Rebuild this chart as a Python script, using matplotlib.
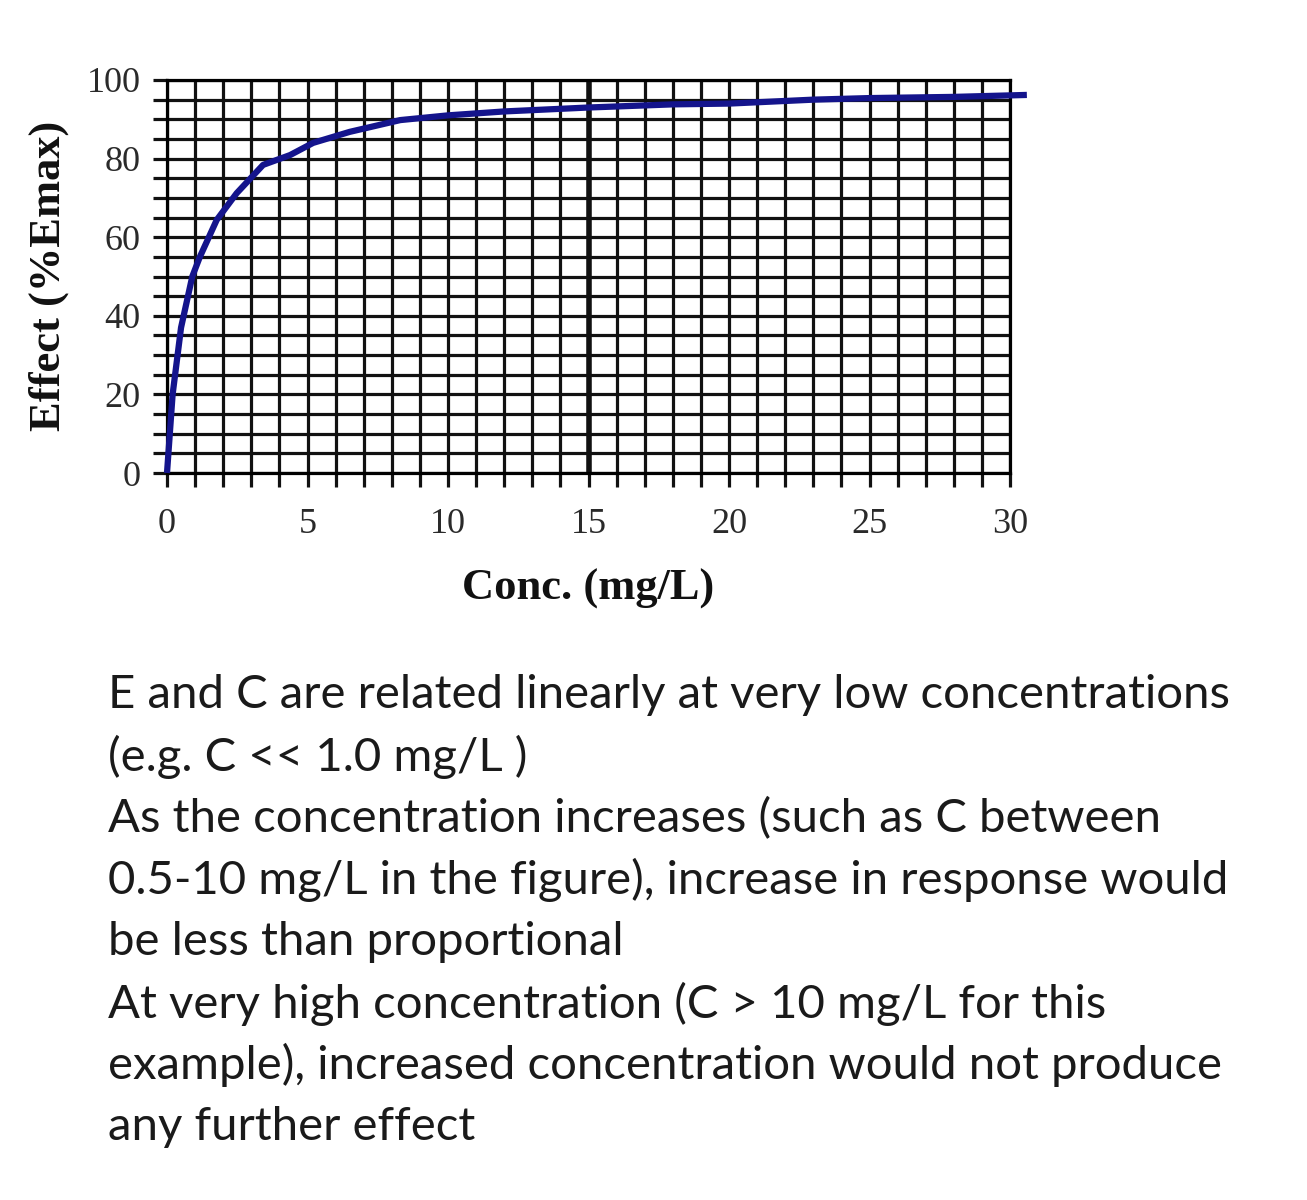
import matplotlib
matplotlib.use('Agg')
import numpy as np
import matplotlib.pyplot as plt

# concentration (mg/L) and effect (%Emax)
conc = [0, 0.2, 0.5, 0.9, 1.17, 1.77, 2.48, 3.42, 4.38, 5.2, 6.5, 8.3, 10, 12, 15, 18, 20, 23, 25, 28, 30.6]
effect = [0, 20, 37, 50, 55, 64.4, 71.2, 78.4, 80.9, 84, 86.8, 89.8, 91, 92, 93, 93.8, 94, 95, 95.4, 95.7, 96.2]

x_ticks = [0, 5, 10, 15, 20, 25, 30]
y_ticks = [0, 20, 40, 60, 80, 100]

notes = [
    "E and C are related linearly at very low concentrations",
    "(e.g. C << 1.0 mg/L )",
    "As the concentration increases (such as C between",
    "0.5-10 mg/L in the figure), increase in response would",
    "be less than proportional",
    "At very high concentration (C > 10 mg/L for this",
    "example), increased concentration would not produce",
    "any further effect",
]

W, H = 1307, 1200
fig = plt.figure(figsize=(W / 100, H / 100), dpi=100)
ax = fig.add_axes([167 / W, 1 - 473 / H, (1010 - 167) / W, (473 - 80) / H])

ax.set_xlim(0, 30)
ax.set_ylim(0, 100)

# grid: every 1 mg/L vertically, every 5 % horizontally
for xv in np.arange(0, 31, 1):
    ax.axvline(xv, color='#111111', lw=4.0 if xv == 15 else 2.3, zorder=1)
for yv in np.arange(0, 101, 5):
    ax.axhline(yv, color='#111111', lw=2.3, zorder=1)

ax.plot(conc, effect, color='#14148c', lw=4.5, zorder=3, clip_on=False,
        solid_capstyle='butt', solid_joinstyle='round')

for s in ax.spines.values():
    s.set_linewidth(2.3)

ax.set_xticks(x_ticks)
ax.set_yticks(y_ticks)
ax.set_xticks(np.arange(0, 31, 1), minor=True)
ax.set_yticks(np.arange(0, 101, 5), minor=True)
ax.tick_params(which='both', direction='out', width=2.3, color='#111111')
ax.tick_params(which='major', length=10)
ax.tick_params(which='minor', length=10)
ax.tick_params(axis='x', which='major', pad=15)
ax.tick_params(axis='y', which='major', pad=9)
for lab in ax.get_xticklabels() + ax.get_yticklabels():
    lab.set_family('Liberation Serif')
    lab.set_fontsize(26)
    lab.set_color('#2a2a2a')

ax.set_xlabel('Conc. (mg/L)', family='Liberation Serif', fontweight='bold',
              fontsize=32, labelpad=20, color='#111111')

fig.text(60 / W, 1 - 276 / H, 'Effect (%Emax)', family='Liberation Serif',
         fontweight='bold', fontsize=32, rotation=90, rotation_mode='anchor',
         ha='center', va='baseline', color='#111111')

y0 = 695
for i, line in enumerate(notes):
    fig.text(108 / W, 1 - (y0 + i * 61.7) / H, line, family='Lato',
             fontsize=34, ha='left', va='center', color='#1a1a1a')

fig.savefig('out.png', dpi=100)
plt.close(fig)
